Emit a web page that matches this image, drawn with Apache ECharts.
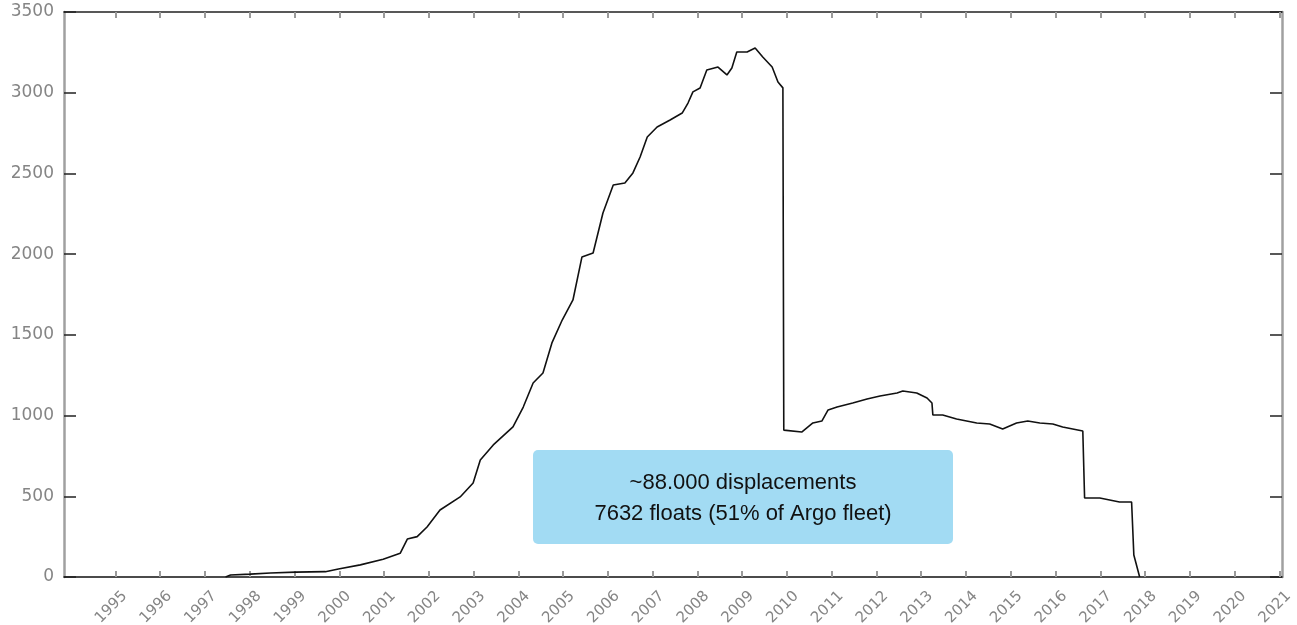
<!DOCTYPE html>
<html>
<head>
<meta charset="utf-8">
<script src="https://cdn.jsdelivr.net/npm/echarts@6/dist/echarts.min.js"></script>
<style>html,body{margin:0;padding:0;background:#fff}#c{width:1297px;height:625px}</style>
</head>
<body>
<div id="c"></div>
<script>
// ---- data ----
const years = [1997.46,1997.57,1998.01,1998.46,1999.02,1999.69,1999.98,2000.47,2000.98,2001.36,2001.52,2001.74,2001.96,2002.25,2002.70,2002.99,2003.15,2003.44,2003.88,2004.11,2004.33,2004.55,2004.75,2004.98,2005.22,2005.42,2005.67,2005.89,2006.12,2006.38,2006.56,2006.72,2006.88,2007.10,2007.39,2007.66,2007.79,2007.90,2008.06,2008.21,2008.46,2008.66,2008.77,2008.88,2009.11,2009.29,2009.46,2009.67,2009.80,2009.91,2009.93,2010.33,2010.58,2010.78,2010.92,2011.12,2011.47,2011.79,2012.08,2012.46,2012.59,2012.90,2013.13,2013.24,2013.26,2013.48,2013.79,2014.24,2014.53,2014.82,2015.13,2015.38,2015.65,2015.94,2016.16,2016.61,2016.65,2016.99,2017.43,2017.70,2017.75,2017.88];
const floats = [0,12,18,25,30,33,50,75,110,147,235,250,310,415,496,582,725,818,930,1053,1202,1264,1450,1592,1716,1982,2007,2255,2428,2441,2503,2602,2726,2788,2831,2874,2936,3005,3029,3141,3159,3110,3153,3252,3252,3277,3221,3159,3066,3030,910,898,954,966,1035,1053,1078,1103,1121,1140,1152,1140,1109,1078,1004,1004,979,954,948,917,954,966,954,948,929,904,489,489,465,465,136,0];
const yearTicks = [1995,1996,1997,1998,1999,2000,2001,2002,2003,2004,2005,2006,2007,2008,2009,2010,2011,2012,2013,2014,2015,2016,2017,2018,2019,2020,2021];
const yTicks = [0,500,1000,1500,2000,2500,3000,3500];
const noteLines = ['~88.000 displacements','7632 floats (51% of Argo fleet)'];

const chart = echarts.init(document.getElementById('c'), null, {renderer:'canvas'});
const labelGray = '#858585';
const xMin = 1993.85, xMax = 2021.06;
chart.setOption({
  backgroundColor:'#fff',
  animation:false,
  grid:{left:64,right:15,top:12,bottom:48,containLabel:false,outerBoundsMode:'none'},
  xAxis:[{
    type:'value',position:'bottom',min:xMin,max:xMax,
    axisLine:{show:true,onZero:false,lineStyle:{color:'#111',width:1.5}},
    axisTick:{show:true,inside:true,length:6,customValues:yearTicks,lineStyle:{color:'#9a9a9a',width:2}},
    axisLabel:{show:true,customValues:yearTicks,rotate:45,margin:26,align:'center',verticalAlign:'middle',padding:[0,12,0,0],color:labelGray,fontFamily:'DejaVu Sans',fontSize:15,formatter:v=>String(Math.round(v))},
    splitLine:{show:false}
  },{
    type:'value',position:'top',min:xMin,max:xMax,
    axisLine:{show:true,onZero:false,lineStyle:{color:'#222',width:1.5}},
    axisTick:{show:true,inside:true,length:6,customValues:yearTicks,lineStyle:{color:'#9a9a9a',width:2}},
    axisLabel:{show:false},splitLine:{show:false}
  }],
  yAxis:[{
    type:'value',position:'left',min:0,max:3500,
    axisLine:{show:true,onZero:false,lineStyle:{color:'#a0a0a0',width:2.5}},
    axisTick:{show:true,inside:true,length:12,customValues:yTicks,lineStyle:{color:'#222',width:1.5}},
    axisLabel:{show:true,customValues:yTicks,margin:10,color:labelGray,fontFamily:'DejaVu Sans',fontSize:17,formatter:v=>String(Math.round(v))},
    splitLine:{show:false}
  },{
    type:'value',position:'right',min:0,max:3500,
    axisLine:{show:true,onZero:false,lineStyle:{color:'#a0a0a0',width:2.5}},
    axisTick:{show:true,inside:true,length:12,customValues:yTicks,lineStyle:{color:'#222',width:1.5}},
    axisLabel:{show:false},splitLine:{show:false}
  }],
  series:[{
    type:'line',xAxisIndex:0,yAxisIndex:0,
    data:years.map((y,i)=>[y,floats[i]]),
    showSymbol:false,symbol:'none',
    lineStyle:{color:'#111',width:1.6},
    z:3
  }],
  graphic:[{
    type:'group',left:533,top:450,
    children:[{
      type:'rect',shape:{x:0,y:0,width:420,height:94,r:5},
      style:{fill:'#a2dbf3'}
    },{
      type:'text',x:210,y:33,
      style:{text:noteLines[0],fill:'#111',font:'22px "Liberation Sans", Arial, sans-serif',align:'center',verticalAlign:'middle'}
    },{
      type:'text',x:210,y:64,
      style:{text:noteLines[1],fill:'#111',font:'22px "Liberation Sans", Arial, sans-serif',align:'center',verticalAlign:'middle'}
    }]
  }]
});
</script>
</body>
</html>
